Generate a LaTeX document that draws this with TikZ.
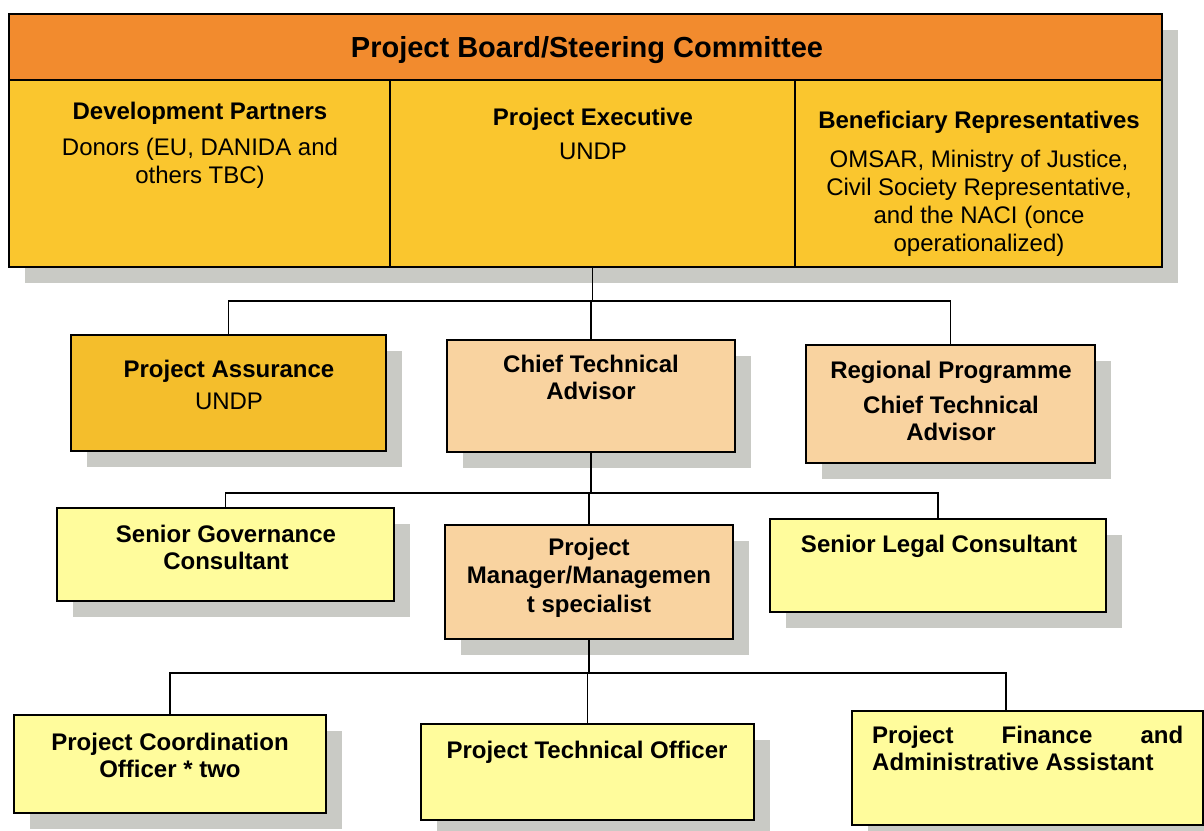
\documentclass[tikz,border=0pt]{standalone}
\usepackage{fontspec}
\setmainfont{Liberation Sans}
\usetikzlibrary{shadows}

\definecolor{boardorange}{HTML}{F28B2E}
\definecolor{boardyellow}{HTML}{FAC62E}
\definecolor{assuregold}{HTML}{F4BE2C}
\definecolor{advpeach}{HTML}{F9D3A0}
\definecolor{staffyellow}{HTML}{FFFC9C}
\definecolor{shadowgray}{HTML}{C9CAC5}

\tikzset{
  box/.style={draw=black, line width=1.8pt, rectangle, inner sep=0pt,
    drop shadow={shadow xshift=16pt, shadow yshift=-16pt, fill=shadowgray, opacity=1}},
  cell/.style={draw=black, line width=1.8pt, rectangle, inner sep=0pt},
  link/.style={draw=black, line width=1.4pt},
  head/.style={anchor=north, inner sep=0pt, align=center,
    font=\bfseries\fontsize{24}{27}\selectfont},
  body/.style={anchor=north, inner sep=0pt, align=center,
    font=\fontsize{24}{28}\selectfont},
  titletext/.style={anchor=base, inner sep=0pt, font=\bfseries\fontsize{29}{34}\selectfont},
}

\begin{document}
\begin{tikzpicture}[x=1pt, y=-1pt]
\useasboundingbox (0,0) rectangle (1204,830);
\clip (0,0) rectangle (1204,830);
\fill[white] (0,0) rectangle (1204,830);

% Project board: header bar and three member cells
\node[box, fill=boardorange, minimum width=1153pt, minimum height=66pt] (hdr) at (585.5,47) {};
\node[box, fill=boardyellow, minimum width=381pt, minimum height=187pt] (dp) at (199.5,173.5) {};
\node[box, fill=boardyellow, minimum width=405pt, minimum height=187pt] (pe) at (592.5,173.5) {};
\node[box, fill=boardyellow, minimum width=367pt, minimum height=187pt] (br) at (978.5,173.5) {};
\node[cell, minimum width=1153pt, minimum height=66pt] (hdrframe) at (585.5,47) {};

\node[titletext] (hdr-t) at (587,57) {Project Board/Steering Committee};
\node[head] (dp-h) at (200,101.5) {Development Partners};
\node[body] (dp-b) at (200,137.5) {Donors (EU, DANIDA and\\others TBC)};
\node[head] (pe-h) at (593,107.5) {Project Executive};
\node[body] (pe-b) at (593,142.5) {UNDP};
\node[head] (br-h) at (979,110.5) {Beneficiary Representatives};
\node[body] (br-b) at (979,149.5) {OMSAR, Ministry of Justice,\\Civil Society Representative,\\and the NACI (once\\operationalized)};

% Second tier
\node[box, fill=assuregold, minimum width=315pt, minimum height=116pt] (pa) at (228.5,393) {};
\node[box, fill=advpeach, minimum width=288pt, minimum height=112pt] (cta) at (591,396) {};
\node[box, fill=advpeach, minimum width=289pt, minimum height=118pt] (reg) at (950.5,404) {};

\node[head] (pa-h) at (229,359.5) {Project Assurance};
\node[body] (pa-b) at (229,392.5) {UNDP};
\node[head] (cta-h) at (591,354.5) {Chief Technical\\Advisor};
\node[head] (reg-h) at (951,360.5) {Regional Programme};
\node[head] (reg-b) at (951,395.5) {Chief Technical\\Advisor};

% Third tier
\node[box, fill=staffyellow, minimum width=337pt, minimum height=93pt] (sg) at (225.5,554.5) {};
\node[box, fill=advpeach, minimum width=288pt, minimum height=114pt] (pm) at (589,582) {};
\node[box, fill=staffyellow, minimum width=336pt, minimum height=93pt] (sl) at (938,565.5) {};

\node[head] (sg-h) at (226,524.5) {Senior Governance\\Consultant};
\node[head, font=\bfseries\fontsize{24}{28.5}\selectfont] (pm-h) at (589,537.5) {Project\\Manager/Managemen\\t specialist};
\node[head] (sl-h) at (939,534.5) {Senior Legal Consultant};

% Project staff
\node[box, fill=staffyellow, minimum width=312pt, minimum height=98pt] (pco) at (170,764) {};
\node[box, fill=staffyellow, minimum width=333pt, minimum height=96pt] (pto) at (587.5,772) {};
\node[box, fill=staffyellow, minimum width=351pt, minimum height=114pt] (pfa) at (1027.5,768) {};

\node[head] (pco-h) at (170,732.5) {Project Coordination\\Officer * two};
\node[head] (pto-h) at (587,740.5) {Project Technical Officer};
\node[head, anchor=north west, align=left] (pfa-h) at (872,725.5)
  {\makebox[311pt][s]{Project\hfill Finance\hfill and}\\Administrative Assistant};

% Reporting lines: one horizontal bus per tier, vertical drops to each box
\coordinate (bus1) at (592,301);
\coordinate (bus2) at (591,493);
\coordinate (bus3) at (589,673);
\coordinate (pfa-in) at ([xshift=-21.5pt]pfa.north);

\draw[link] (pe.south) -- (pe.south |- bus1);
\draw[link] (cta.north) -- (cta.north |- bus1);
\draw[link] (pa.north) |- (bus1) -| (reg.north);

\draw[link] (cta.south) -- (cta.south |- bus2);
\draw[link] (pm.north) -- (pm.north |- bus2);
\draw[link] (sg.north) |- (bus2) -| (sl.north);

\draw[link] (pm.south) -- (pm.south |- bus3);
\draw[link] (pto.north) -- (pto.north |- bus3);
\draw[link] (pco.north) |- (bus3) -| (pfa-in);
\end{tikzpicture}
\end{document}
